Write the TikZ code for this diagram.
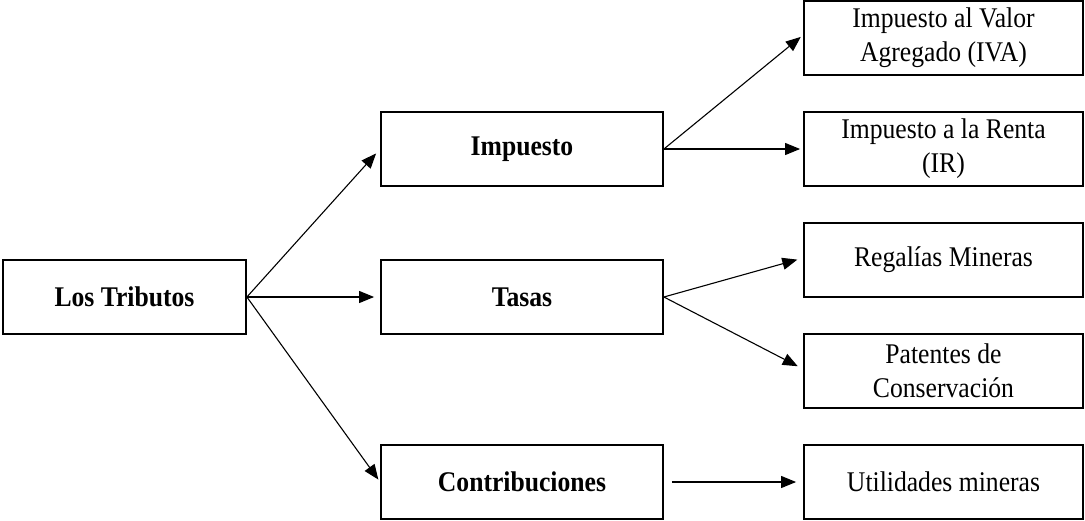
\documentclass[tikz,border=0pt]{standalone}
\usepackage{fontspec}
\setmainfont{Liberation Serif}[FakeStretch=0.9]
\usetikzlibrary{arrows.meta}
\begin{document}
\begin{tikzpicture}[x=1pt,y=-1pt,
  box/.style={draw,line width=1.8pt,rectangle,inner sep=0pt,align=center,
    font=\fontsize{28.5}{34}\selectfont},
  boldbox/.style={box,font=\fontsize{28.5}{34}\selectfont\bfseries},
  midbox/.style={boldbox,minimum width=282pt,minimum height=74pt},
  leafbox/.style={box,minimum width=279pt,minimum height=74pt},
  arr/.style={line width=1.1pt,-{Triangle[length=15pt,width=12pt]}}]
\useasboundingbox (0,0) rectangle (1085,520);
\node[boldbox,minimum width=243pt,minimum height=74pt] (trib) at (124.5,297) {Los Tributos};
\node[midbox] (imp) at (522,149) {Impuesto};
\node[midbox] (tas) at (522,297) {Tasas};
\node[midbox] (con) at (522,482) {Contribuciones};
\node[leafbox] (iva) at (943.5,38) {Impuesto al Valor\\Agregado (IVA)};
\node[leafbox] (ir) at (943.5,149) {Impuesto a la Renta\\(IR)};
\node[leafbox] (reg) at (943.5,260) {Regalías Mineras};
\node[leafbox] (pat) at (943.5,371) {Patentes de\\Conservación};
\node[leafbox] (uti) at (943.5,482) {Utilidades mineras};
\draw[arr,shorten >=6pt] (trib.east) -- (imp.west);
\draw[arr,shorten >=6pt] (trib.east) -- (tas.west);
\draw[arr,shorten >=3pt] (trib.east) -- (con.west);
\draw[arr,shorten >=3pt] (imp.east) -- ([yshift=3pt]iva.west);
\draw[arr,shorten >=3pt] (imp.east) -- (ir.west);
\draw[arr,shorten >=6pt] (tas.east) -- ([yshift=2pt]reg.west);
\draw[arr,shorten >=6pt] (tas.east) -- ([yshift=2pt]pat.west);
\draw[arr] ([xshift=8pt]con.east) -- ([xshift=-7pt]uti.west);
\end{tikzpicture}
\end{document}
